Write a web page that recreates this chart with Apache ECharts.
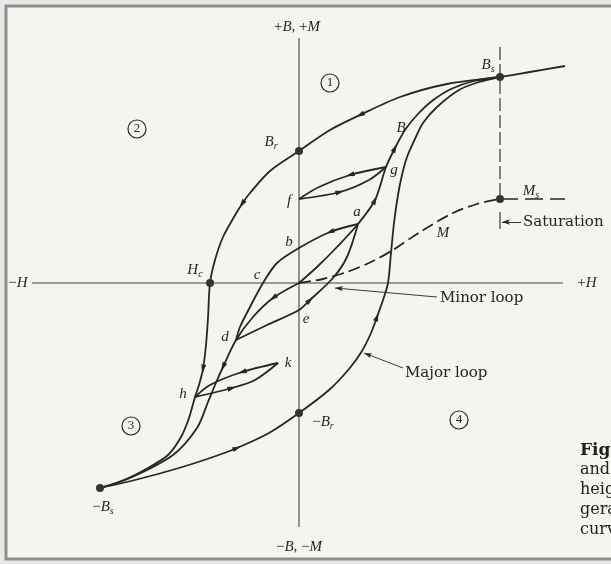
<!DOCTYPE html>
<html>
<head>
<meta charset="utf-8">
<script src="https://cdn.jsdelivr.net/npm/echarts@6/dist/echarts.min.js"></script>
<style>
  html, body { margin: 0; padding: 0; background: #e8e8e6; }
  #chart { width: 611px; height: 564px; }
</style>
</head>
<body>
<div id="chart"></div>
<script>
// B–H hysteresis diagram: field H along the horizontal axis, B (and M) vertical.
// Every path is listed in the order it is traversed, so arrowheads follow the data.

// Major loop, falling branch: saturation tail -> +Bs -> Br -> Hc -> h -> -Bs
const majorDown = [[266,217],[231,211],[201,206],[148,199],[101,186],[61,168],[31,153],[0,132],
  [-29,112],[-49,90],[-57,79],[-65,66],[-76,46],[-84,23],[-89,0],[-91,-35],[-93,-62],[-96,-86],
  [-100,-102],[-104,-114],[-110,-135],[-118,-154],[-131,-172],[-151,-185],[-175,-197],[-199,-205]];
// Major loop, rising branch: -Bs -> -Br -> +H crossing -> +Bs
const majorUp = [[-199,-205],[-160,-196],[-120,-185],[-86,-174],[-62,-165],[-30,-150],[0,-130],
  [30,-107],[50,-86],[63,-68],[72,-50],[78,-34],[84,-17],[89,0],[92,30],[95,60],[99,88],[103,108],
  [108,126],[115,142],[124,160],[138,176],[160,193],[180,201],[201,206]];
// Initial magnetization from the demagnetized origin, both directions
const initialUp = [[0,0],[18,16],[38,36],[59,59],[76,83],[87,116],[96,135],[106,153],[118,168],
  [133,182],[152,194],[175,202],[201,206]];
const initialDown = [[0,0],[-26,-15],[-46,-34],[-63,-57],[-76,-84],[-84,-102],[-91,-119],
  [-102,-145],[-126,-172],[-169,-195],[-199,-205]];
// Minor loop a-b-c-d-e-a
const minorABCD = [[59,59],[31,51],[0,35],[-22,20],[-36,0],[-49,-24],[-59,-44],[-63,-57]];
const minorDEA = [[-63,-57],[-32,-42],[0,-27],[11,-17],[34,5],[48,26],[59,59]];
// Small loop g-f on the initial curve
const loopGF = [[87,116],[51,108],[20,96],[0,84]];
const loopFG = [[0,84],[41,91],[70,103],[87,116]];
// Small loop h-k on the falling major branch
const loopKH = [[-21,-80],[-57,-89],[-89,-102],[-104,-114]];
const loopHK = [[-104,-114],[-67,-105],[-44,-97],[-21,-80]];
// Magnetization M rising to Ms
const magnetization = [[0,0],[24,4],[48,11],[72,21],[94,33],[121,51],[154,70],[178,79],[201,84]];
const msLevel = [[201,84],[266,84]];
const saturationLine = [[201,236],[201,84]];
const saturationTick = [[201,71],[201,54]];

// Coordinate axes
const hAxisLine = [[-267,0],[264,0]];
const bAxisLine = [[0,245],[0,-244]];

// Marked points (drawn as dots)
const keyNames = ['Bs','Br','Hc','-Br','-Bs','Ms'];
const keyValues = [[201,206],[0,132],[-89,0],[0,-130],[-199,-205],[201,84]];
// Lettered points along the paths
const tagNames = ['a','b','c','d','e','f','g','h','k'];
const tagValues = [[59,59],[0,35],[-36,0],[-63,-57],[0,-27],[0,84],[87,116],[-104,-114],[-21,-80]];
// Quadrant numbers
const quadNames = ['1','2','3','4'];
const quadValues = [[31,200],[-162,154],[-168,-143],[160,-137]];

// Arrowheads: [path, vertex index]
const arrowMarks = [
  [majorDown,5],[majorDown,10],[majorDown,17],
  [majorUp,4],[majorUp,11],
  [initialUp,4],[initialUp,6],[initialDown,1],[initialDown,4],
  [minorABCD,1],[minorDEA,3],
  [loopGF,1],[loopFG,1],[loopKH,1],[loopHK,1]
];

const INK = '#262626';
const SERIF = 'Liberation Serif';
const BOOK = 'DejaVu Serif';

const rich = {
  i: { fontFamily: SERIF, fontStyle: 'italic', fontSize: 15, color: INK, lineHeight: 18 },
  s: { fontFamily: SERIF, fontStyle: 'italic', fontSize: 10, color: INK, lineHeight: 18, padding: [9,0,0,0] },
  n: { fontFamily: SERIF, fontSize: 15, color: INK, lineHeight: 18 }
};

const keyText = {
  'Bs': '{i|B}{s|s}', 'Br': '{i|B}{s|r}', 'Hc': '{i|H}{s|c}',
  '-Br': '{n|\u2212}{i|B}{s|r}', '-Bs': '{n|\u2212}{i|B}{s|s}', 'Ms': '{i|M}{s|s}'
};
const keyOffset = {
  'Bs': [-12,-12], 'Br': [-28,-9], 'Hc': [-15,-13], '-Br': [24,9], '-Bs': [3,19], 'Ms': [31,-8]
};
const tagOffset = {
  a: [-1,-12], b: [-10,-6], c: [-6,-8], d: [-11,-3], e: [7,9], f: [-10,2], g: [8,3], h: [-12,-3], k: [10,0]
};

function curve(id, data, extra) {
  return Object.assign({
    id: id, type: 'line', data: data, smooth: 0.3, symbol: 'none', silent: true,
    lineStyle: { color: INK, width: 1.8 }, z: 3
  }, extra || {});
}
function straight(id, data, style) {
  return { id: id, type: 'line', data: data, symbol: 'none', silent: true,
    lineStyle: Object.assign({ color: INK, width: 1.2 }, style), z: 2 };
}

const chart = echarts.init(document.getElementById('chart'), null, { renderer: 'canvas' });

const notes = [
  { value: [-2,256], text: '{n|+}{i|B}{n|, +}{i|M}' },
  { value: [0,-264], text: '{n|\u2212}{i|B}{n|, \u2212}{i|M}' },
  { value: [-281,0], text: '{n|\u2212}{i|H}' },
  { value: [288,0], text: '{n|+}{i|H}' },
  { value: [144,50], text: '{i|M}' },
  { value: [102,155], text: '{i|B}' }
];
const captions = [
  { value: [141,-15], text: 'Minor loop' },
  { value: [106,-90], text: 'Major loop' },
  { value: [224,61], text: 'Saturation' }
];

const solid = { opacity: 1 };

const option = {
  animation: false,
  backgroundColor: '#e8e8e6',
  grid: { left: 0, right: 0, top: 0, bottom: 0, containLabel: false },
  xAxis: { type: 'value', min: -299, max: 312, show: false },
  yAxis: { type: 'value', min: -281, max: 283, show: false },
  graphic: {
    elements: [
      { type: 'rect', z: -10, shape: { x: 6, y: 6, width: 700, height: 553 },
        style: { fill: '#f4f4f1', stroke: '#8e8e8c', lineWidth: 3 } },
      { type: 'text', z: 5, left: 580, top: 442, style: { text: 'Fig.', font: 'bold 17px "' + BOOK + '"', fill: '#1e1e1e' } },
      { type: 'text', z: 5, left: 580, top: 462, style: { text: 'and', font: '16px "' + BOOK + '"', fill: '#1e1e1e' } },
      { type: 'text', z: 5, left: 580, top: 482, style: { text: 'heig', font: '16px "' + BOOK + '"', fill: '#1e1e1e' } },
      { type: 'text', z: 5, left: 580, top: 502, style: { text: 'gera', font: '16px "' + BOOK + '"', fill: '#1e1e1e' } },
      { type: 'text', z: 5, left: 580, top: 522, style: { text: 'curv', font: '16px "' + BOOK + '"', fill: '#1e1e1e' } }
    ]
  },
  series: [
    straight('hAxis', hAxisLine, { color: '#404040', width: 1.1 }),
    Object.assign(straight('bAxis', bAxisLine, { color: '#404040', width: 1.1 }), {
      markLine: {
        silent: true, symbol: ['none','arrow'], symbolSize: [4,8],
        label: { show: false },
        lineStyle: { color: INK, width: 0.9, type: 'solid', opacity: 1 },
        data: [
          [{ coord: [138,-14] }, { coord: [36,-5] }],
          [{ coord: [104,-85] }, { coord: [65,-70] }],
          [{ coord: [222,61] }, { coord: [203,61] }]
        ]
      }
    }),
    curve('majorDown', majorDown),
    curve('majorUp', majorUp),
    curve('initialUp', initialUp),
    curve('initialDown', initialDown),
    curve('minorABCD', minorABCD),
    curve('minorDEA', minorDEA),
    curve('loopGF', loopGF),
    curve('loopFG', loopFG),
    curve('loopKH', loopKH),
    curve('loopHK', loopHK),
    curve('magnetization', magnetization, { lineStyle: { color: INK, width: 1.8, type: [12,5] } }),
    straight('msLevel', msLevel, { width: 1.7, type: [18,7] }),
    straight('saturationLine', saturationLine, { width: 1.1, type: [13,4] }),
    straight('saturationTick', saturationTick, { width: 1.1 }),
    { id: 'arrows', type: 'scatter', data: [], symbol: 'triangle', symbolSize: [5,9],
      itemStyle: { color: INK, opacity: 1 }, silent: true, z: 6 },
    { id: 'keyPoints', type: 'scatter', symbolSize: 8, silent: true, z: 7,
      itemStyle: { color: '#333333', opacity: 1 },
      data: keyNames.map(function (n, i) {
        return { name: n, value: keyValues[i],
          label: { show: true, position: 'inside', offset: keyOffset[n], formatter: keyText[n], rich: rich } };
      }) },
    { id: 'tags', type: 'scatter', symbolSize: 0, silent: true, z: 7, itemStyle: solid,
      data: tagNames.map(function (n, i) {
        return { name: n, value: tagValues[i],
          label: { show: true, position: 'inside', offset: tagOffset[n], formatter: '{i|' + n + '}', rich: rich } };
      }) },
    { id: 'quadrants', type: 'scatter', symbol: 'circle', symbolSize: 18, silent: true, z: 7,
      itemStyle: { color: 'rgba(0,0,0,0)', borderColor: INK, borderWidth: 1.2, opacity: 1 },
      label: { show: true, position: 'inside', formatter: '{b}', fontFamily: SERIF, fontSize: 13, color: INK },
      data: quadNames.map(function (n, i) { return { name: n, value: quadValues[i] }; }) },
    { id: 'notes', type: 'scatter', symbolSize: 0, silent: true, z: 7, itemStyle: solid,
      data: notes.map(function (t) {
        return { value: t.value, label: { show: true, position: 'inside', formatter: t.text, rich: rich } };
      }) },
    { id: 'captions', type: 'scatter', symbolSize: 0, silent: true, z: 7, itemStyle: solid,
      label: { show: true, position: 'right', distance: 0, formatter: '{b}',
        fontFamily: BOOK, fontSize: 15, color: '#222222' },
      data: captions.map(function (t) { return { name: t.text, value: t.value }; }) }
  ]
};

chart.setOption(option);

// Arrowheads sit on a path vertex and point along the local direction of travel.
const arrowData = arrowMarks.map(function (m) {
  const path = m[0], i = m[1];
  const p0 = chart.convertToPixel({ gridIndex: 0 }, path[i - 1]);
  const p1 = chart.convertToPixel({ gridIndex: 0 }, path[i + 1]);
  const ang = Math.atan2(-(p1[1] - p0[1]), p1[0] - p0[0]) * 180 / Math.PI;
  return { value: path[i], symbolRotate: ang - 90 };
});
chart.setOption({ series: [{ id: 'arrows', data: arrowData }] });
</script>
</body>
</html>
